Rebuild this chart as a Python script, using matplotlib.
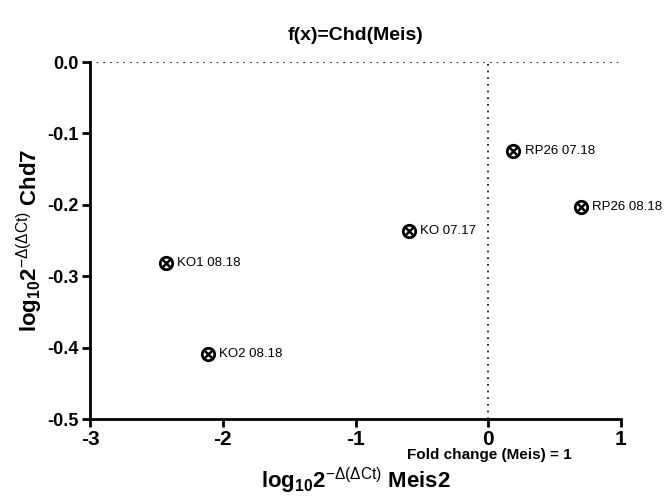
import matplotlib
matplotlib.use("Agg")
import matplotlib.pyplot as plt

labels = ["RP26 07.18", "RP26 08.18", "KO 07.17", "KO1 08.18", "KO2 08.18"]
meis = [0.19, 0.70, -0.595, -2.425, -2.11]
chd = [-0.125, -0.203, -0.236, -0.281, -0.409]
xticks = [-3, -2, -1, 0, 1]
yticks = [0.0, -0.1, -0.2, -0.3, -0.4, -0.5]

plt.rcParams['font.family'] = ['Liberation Sans', 'DejaVu Sans']
plt.rcParams['mathtext.fontset'] = 'custom'
plt.rcParams['mathtext.rm'] = 'Liberation Sans:bold'
plt.rcParams['mathtext.it'] = 'Liberation Sans:bold'
plt.rcParams['mathtext.bf'] = 'Liberation Sans:bold'
plt.rcParams['mathtext.sf'] = 'Liberation Sans'

fig = plt.figure(figsize=(6.67, 4.98), dpi=100)
ax = fig.add_axes([0.135, 0.1586, 0.796, 0.7169])

ax.axhline(0, color='black', linestyle=(0, (1, 3)), linewidth=1.2, zorder=1)
ax.axvline(0, color='black', linestyle=(0, (1, 3)), linewidth=1.2, zorder=1)

ax.scatter(meis, chd, s=80, facecolor='white', edgecolor='black', linewidth=2.0, zorder=3)
ax.scatter(meis, chd, s=30, marker='x', color='black', linewidth=1.8, zorder=4)
for x, y, t in zip(meis, chd, labels):
    ax.annotate(t, (x, y), xytext=(8, 0), textcoords='offset points',
                va='center', ha='left', fontsize=9.5)

ax.set_xlim(-3, 1)
ax.set_ylim(-0.5, 0.0)
ax.set_xticks(xticks)
ax.set_yticks(yticks)
ax.set_xticklabels([str(v) for v in xticks], fontsize=15, fontweight='bold')
ax.set_yticklabels([f"{v:.1f}" for v in yticks], fontsize=13, fontweight='bold')
ax.tick_params(direction='out', length=6, width=2, pad=2)
for s in ['top', 'right']:
    ax.spines[s].set_visible(False)
for s in ['left', 'bottom']:
    ax.spines[s].set_linewidth(2)

ax.set_title("f(x)=Chd(Meis)", fontsize=14, fontweight='bold', pad=16)
ax.set_xlabel(r"log$_{10}$2$^{\mathsf{-\Delta(\Delta Ct)}}$ Meis2", fontsize=16, fontweight='bold', labelpad=12)
ax.set_ylabel(r"log$_{10}$2$^{\mathsf{-\Delta(\Delta Ct)}}$ Chd7", fontsize=16, fontweight='bold', labelpad=2)
ax.text(0.01, -0.5505, "Fold change (Meis) = 1", ha='center', va='center', fontsize=11, fontweight='bold')

fig.savefig("out.png", dpi=100)
